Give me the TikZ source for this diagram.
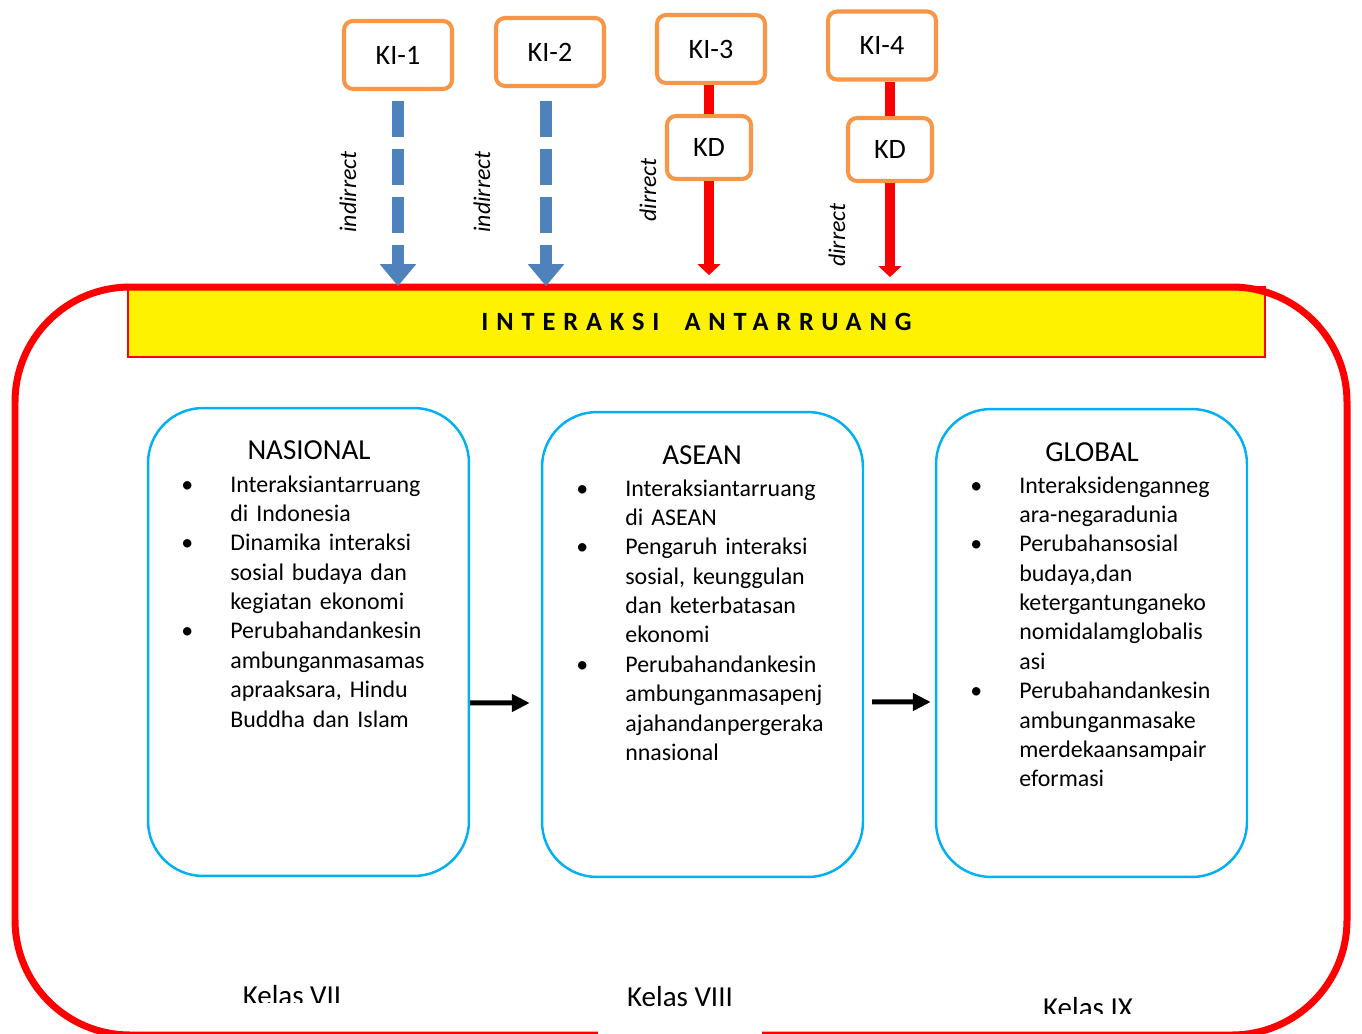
\documentclass[tikz,border=0pt]{standalone}
\usepackage{fontspec}
\setmainfont{Carlito}
\usepackage{tikz}
\usetikzlibrary{arrows.meta}
\definecolor{kiorange}{HTML}{F79646}
\definecolor{areacyan}{HTML}{00B0F0}
\definecolor{flowblue}{HTML}{4F81BD}
\newcommand{\bul}{\leavevmode\llap{\textbullet\hspace{0.74cm}}}

\begin{document}
\begin{tikzpicture}[
    x=0.02cm, y=-0.02cm,
    kibox/.style={rectangle, draw=kiorange, line width=2.3pt, rounded corners=0.18cm,
                  fill=white, minimum width=2.16cm, minimum height=1.36cm,
                  font=\fontsize{16}{19}\selectfont},
    kdbox/.style={kibox, minimum width=1.68cm, minimum height=1.26cm},
    areabox/.style={rectangle, draw=areacyan, line width=1.4pt, rounded corners=1.1cm,
                    minimum width=6.42cm, minimum height=9.36cm},
    areatitle/.style={font=\fontsize{16.5}{20}\selectfont},
    itemlist/.style={anchor=base west, inner sep=0pt, text width=5cm, align=left,
                     font=\fontsize{13.6}{16.73}\selectfont},
    sidelabel/.style={rotate=90, font=\itshape\fontsize{13.6}{16}\selectfont},
    kelas/.style={anchor=base, inner sep=0pt, font=\fontsize{16.5}{20}\selectfont},
    bluearrow/.style={flowblue, line width=0.24cm, dash pattern=on 0.72cm off 0.24cm,
                      -{Triangle[width=0.7cm, length=0.44cm]}},
    redline/.style={red, line width=0.19cm},
    redarrow/.style={redline, -{Triangle[width=0.45cm, length=0.22cm]}},
    flowarrow/.style={black, line width=0.1cm, -{Triangle[width=0.34cm, length=0.36cm]}}
]
\useasboundingbox (0,0) rectangle (1362,1034);

% band and frame
\node[draw=red, line width=1pt, fill=yellow, minimum width=22.74cm, minimum height=1.4cm,
      font=\bfseries\fontsize{15}{18}\selectfont] (band) at (696.5,322)
      {\addfontfeature{LetterSpace=30}INTERAKSI\hspace{0.5cm}ANTARRUANG};
\draw[red, line width=0.14cm, rounded corners=2.3cm] (15,287) rectangle (1347,1035);

% KI and KD boxes
\node[kibox] (ki1) at (398,55) {KI-1};
\node[kibox] (ki2) at (550,52) {KI-2};
\node[kibox] (ki3) at (711,49) {KI-3};
\node[kibox] (ki4) at (882,45.5) {KI-4};
\node[kdbox] (kd3) at (709,147.5) {KD};
\node[kdbox] (kd4) at (890,149.5) {KD};

\draw[bluearrow] ([yshift=-0.2cm]ki1.south) -- (ki1.south |- band.north);
\draw[bluearrow] ([xshift=-0.08cm, yshift=-0.26cm]ki2.south) -- ([xshift=-0.08cm]ki2.south |- band.north);
\draw[redline] (kd3.north) -- (kd3.north |- ki3.south);
\draw[redline] (kd4.north) -- (kd4.north |- ki4.south);
\draw[redarrow, shorten >=0.22cm] (kd3.south) -- (kd3.south |- band.north);
\draw[redarrow, shorten >=0.18cm] (kd4.south) -- (kd4.south |- band.north);

\node[sidelabel] (ind1) at (348,192) {indirrect};
\node[sidelabel] (ind2) at (482,192) {indirrect};
\node[sidelabel] (dir3) at (648,190) {dirrect};
\node[sidelabel] (dir4) at (837,235) {dirrect};

% area boxes
\node[areabox] (nas) at (308.5,642) {};
\node[areabox, minimum height=9.3cm] (asean) at (702.5,644.5) {};
\node[areabox, minimum width=6.22cm] (global) at (1091.5,643) {};

\node[areatitle] (nasTitle) at (309,450) {NASIONAL};
\node[areatitle] (aseanTitle) at (702,455) {ASEAN};
\node[areatitle] (globalTitle) at (1092,452) {GLOBAL};

\node[itemlist] (nasList) at (230,492) {\bul Interaksiantarruang\\
di Indonesia\\
\bul Dinamika interaksi\\
sosial budaya dan\\
kegiatan ekonomi\\
\bul Perubahandankesin\\
ambunganmasamas\\
apraaksara, Hindu\\
Buddha dan Islam};

\node[itemlist] (aseanList) at (625,496) {\bul Interaksiantarruang\\
di ASEAN\\
\bul Pengaruh interaksi\\
sosial, keunggulan\\
dan keterbatasan\\
ekonomi\\
\bul Perubahandankesin\\
ambunganmasapenj\\
ajahandanpergeraka\\
nnasional};

\node[itemlist] (globalList) at (1019,493) {\bul Interaksidenganneg\\
ara-negaradunia\\
\bul Perubahansosial\\
budaya,dan\\
ketergantunganeko\\
nomidalamglobalis\\
asi\\
\bul Perubahandankesin\\
ambunganmasake\\
merdekaansampair\\
eformasi};

\draw[flowarrow, shorten >=0.22cm] ([yshift=-1.22cm]nas.east) -- ([yshift=-1.17cm]asean.west);
\draw[flowarrow, shorten <=0.16cm, shorten >=0.08cm] ([yshift=-1.15cm]asean.east) -- ([yshift=-1.18cm]global.west);

% class labels
\begin{scope}
\clip (200,960) rectangle (400,1002);
\node[kelas] (kelas7) at (292,1005) {Kelas VII};
\end{scope}
\node[kelas, fill=white, text height=0.9cm, text depth=1cm, minimum width=3.28cm]
      (kelas8) at (680,1006) {Kelas VIII};
\begin{scope}
\clip (980,960) rectangle (1200,1013);
\node[kelas] (kelas9) at (1088,1017) {Kelas IX};
\end{scope}
\end{tikzpicture}
\end{document}
